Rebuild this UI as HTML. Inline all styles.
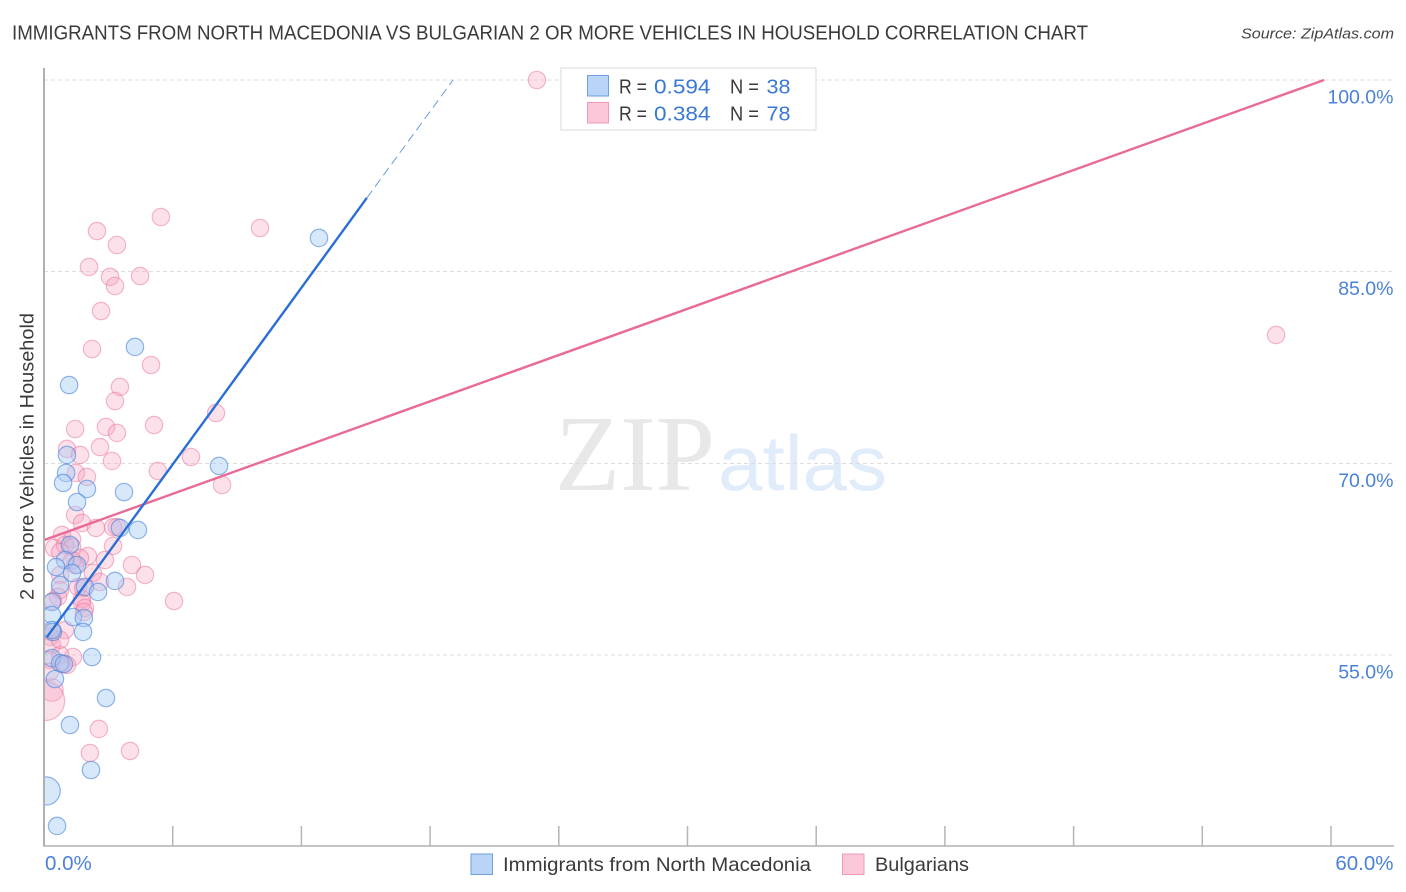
<!DOCTYPE html>
<html lang="en">
<head>
<meta charset="utf-8">
<title>Immigrants from North Macedonia vs Bulgarian 2 or more Vehicles in Household Correlation Chart</title>
<style>
html,body{margin:0;padding:0;background:#fff;}
body{width:1406px;height:892px;overflow:hidden;}
svg{display:block;}
text{font-family:"Liberation Sans",sans-serif;}
</style>
</head>
<body>
<svg id="chart" xmlns="http://www.w3.org/2000/svg" width="1406" height="892" viewBox="0 0 1406 892">
  <defs><clipPath id="plot-clip"><rect x="44" y="60" width="1350" height="786"></rect></clipPath></defs>
  <text x="12" y="39.5" font-size="20" fill="#3a3a3a" textLength="1076" lengthAdjust="spacingAndGlyphs">IMMIGRANTS FROM NORTH MACEDONIA VS BULGARIAN 2 OR MORE VEHICLES IN HOUSEHOLD CORRELATION CHART</text>
  <text x="1241" y="38.5" font-size="15" font-style="italic" fill="#444" textLength="153" lengthAdjust="spacingAndGlyphs">Source: ZipAtlas.com</text>
  <g>
    <text x="555" y="490" font-size="108" fill="#e8e8e8" style="font-family:'Liberation Serif',serif" textLength="160" lengthAdjust="spacingAndGlyphs">ZIP</text>
    <text x="718" y="490" font-size="78" fill="#e1ecfa" textLength="169" lengthAdjust="spacingAndGlyphs">atlas</text>
  </g>
  <g id="grid"></g>
  <g id="points" clip-path="url(#plot-clip)"></g>
  <g id="lines"></g>
  <g id="axes"></g>
  <text transform="translate(33.5,600) rotate(-90)" x="0" y="0" font-size="19" fill="#3a3a3a" textLength="287" lengthAdjust="spacingAndGlyphs">2 or more Vehicles in Household</text>
  <g>
    <rect x="561" y="68" width="255" height="62" fill="#fff" fill-opacity="0.9" stroke="#e6e6e6" stroke-width="1.5"></rect>
    <rect x="587.5" y="75.5" width="21" height="20.5" fill="#b9d4f7" stroke="#6f9fdf" stroke-width="1"></rect>
    <rect x="587.5" y="102.5" width="21" height="20.5" fill="#fcc8d9" stroke="#f19ab8" stroke-width="1"></rect>
    <text x="619" y="93.5" font-size="20" fill="#3a3a3a" textLength="28" lengthAdjust="spacingAndGlyphs">R =</text>
    <text x="654" y="93.5" font-size="20.5" fill="#3a78d6" textLength="56.5" lengthAdjust="spacingAndGlyphs">0.594</text>
    <text x="730" y="93.5" font-size="20" fill="#3a3a3a" textLength="29" lengthAdjust="spacingAndGlyphs">N =</text>
    <text x="766.5" y="93.5" font-size="20.5" fill="#3a78d6" textLength="24" lengthAdjust="spacingAndGlyphs">38</text>
    <text x="619" y="120.5" font-size="20" fill="#3a3a3a" textLength="28" lengthAdjust="spacingAndGlyphs">R =</text>
    <text x="654" y="120.5" font-size="20.5" fill="#3a78d6" textLength="56.5" lengthAdjust="spacingAndGlyphs">0.384</text>
    <text x="730" y="120.5" font-size="20" fill="#3a3a3a" textLength="29" lengthAdjust="spacingAndGlyphs">N =</text>
    <text x="766.5" y="120.5" font-size="20.5" fill="#3a78d6" textLength="24" lengthAdjust="spacingAndGlyphs">78</text>
  </g>
  <g>
    <rect x="471" y="854" width="21.5" height="20.5" fill="#b9d4f7" stroke="#6f9fdf" stroke-width="1"></rect>
    <text x="503" y="871" font-size="19.5" fill="#3a3a3a" textLength="308" lengthAdjust="spacingAndGlyphs">Immigrants from North Macedonia</text>
    <rect x="842.5" y="854" width="21.5" height="20.5" fill="#fcc8d9" stroke="#f19ab8" stroke-width="1"></rect>
    <text x="875" y="871" font-size="19.5" fill="#3a3a3a" textLength="94" lengthAdjust="spacingAndGlyphs">Bulgarians</text>
  </g>
</svg>
<script>
const yTickValues = [100, 85, 70, 55];
const yTickLabels = ["100.0%", "85.0%", "70.0%", "55.0%"];
const xTickValues = [0, 6, 12, 18, 24, 30, 36, 42, 48, 54, 60];
const xEndValues = [0, 60];
const xEndLabels = ["0.0%", "60.0%"];

const blueX = [12.82,4.24,1.17,8.16,1.07,1.03,0.89,2.0,3.73,1.54,4.38,3.54,1.21,0.98,1.54,0.56,1.31,3.31,1.91,0.75,2.52,0.37,0.37,1.35,1.86,1.82,0.42,2.24,0.37,0.75,0.93,0.51,2.89,1.21,2.19,0.1,0.61,0.37];
const blueY = [87.64,79.11,76.13,69.8,70.66,69.25,68.47,68.0,67.76,66.98,64.79,64.95,63.62,62.44,62.05,61.89,61.42,60.8,60.33,60.49,59.94,59.15,58.14,57.98,57.9,56.81,56.81,54.85,54.77,54.38,54.3,53.13,51.64,49.53,46.01,44.37,41.63,56.96];
const blueWeight = [1,1,1,1,1,1,1,1,1,1,1,1,1,1,1,1,1,1,1,1,1,1,1,1,1,1,1,1,1,1,1,1,1,1,1,1.62,1,1];

const pinkX = [22.98,5.45,10.07,2.47,3.40,2.10,3.08,4.48,3.31,2.66,57.44,2.24,4.99,3.54,3.31,8.02,5.13,1.45,2.89,3.40,1.07,2.61,1.68,6.85,3.17,5.31,1.49,2.0,8.30,1.45,1.77,2.42,3.4,3.22,0.84,1.31,0.47,0.98,1.31,2.05,2.84,1.68,0.75,4.10,4.71,6.06,3.87,2.28,0.75,1.45,2.61,1.59,0.75,0.65,0.42,1.82,1.77,1.77,1.91,0.98,0.37,0.28,0.37,1.35,0.75,0.84,1.07,0.28,0.37,0.05,2.56,2.14,4.01,1.86,0.75,0.28,3.22,1.31];
const pinkY = [100,89.28,88.42,88.18,87.09,85.37,84.59,84.66,83.88,81.92,80.05,78.95,77.7,75.98,74.88,73.94,73.0,72.69,72.85,72.38,71.13,71.28,70.66,70.5,70.19,69.41,69.25,68.94,68.31,65.96,65.34,64.95,65.02,63.54,64.4,64.08,63.38,63.62,63.46,62.75,62.44,62.6,63.07,62.05,61.27,59.23,60.33,61.42,61.27,62.05,60.72,60.33,60.09,59.55,59.23,60.25,59.39,59.08,58.69,56.96,56.81,56.42,55.79,54.85,55.01,54.3,54.23,54.62,52.27,51.41,49.22,47.34,47.5,58.37,56.2,53.7,65.0,62.4];
const pinkWeight = [1,1,1,1,1,1,1,1,1,1,1,1,1,1,1,1,1,1,1,1,1,1,1,1,1,1,1,1,1,1,1,1,1,1,1,1,1,1,1,1,1,1,1,1,1,1,1,1,1,1,1,1,1,1,1,1,1,1,1,1,1,1,1,1,1,1,1,1,1.3,2.25,1,1,1,1,1,1,1,1];

const blueTrendX = [0.14, 15.05];
const blueTrendY = [56.42, 90.77];
const blueProjectedX = [15.05, 19.07];
const blueProjectedY = [90.77, 100];
const pinkTrendX = [0, 59.68];
const pinkTrendY = [64.0, 100];

const NS = "http://www.w3.org/2000/svg";
const xScale = v => 44 + v * 21.45;
const yScale = v => 80 + (100 - v) * 12.78;
const rScale = w => 8.7 * w;

function make(tag, attrs, parent) {
  const el = document.createElementNS(NS, tag);
  Object.keys(attrs).forEach(k => el.setAttribute(k, attrs[k]));
  parent.appendChild(el);
  return el;
}

const grid = document.getElementById("grid");
const axes = document.getElementById("axes");
const points = document.getElementById("points");
const lines = document.getElementById("lines");

yTickValues.forEach((v, i) => {
  const g = make("line", {x1: 44, x2: 1394, y1: yScale(v), y2: yScale(v), stroke: "#dddddd", "stroke-width": 1, "stroke-dasharray": "4 3", "shape-rendering": "crispEdges"}, grid);
  
  
  const t = make("text", {x: 1393.5, y: yScale(v) + 23.5, "font-size": 19.5, fill: "#4a82d9", "text-anchor": "end"}, axes);
  t.textContent = yTickLabels[i];
  
  
});

xTickValues.forEach(v => {
  const k = make("line", {x1: xScale(v), x2: xScale(v), y1: 826, y2: 846, stroke: "#b5b5b5", "stroke-width": 1.5}, axes);
  
  
});

xEndValues.forEach((v, i) => {
  const t = make("text", {x: i === 0 ? xScale(v) + 1 : 1393.5, y: 870, "font-size": 20.5, fill: "#4a82d9", "text-anchor": i === 0 ? "start" : "end"}, axes);
  t.textContent = xEndLabels[i];
  
  
});

const yAxisLine = make("line", {x1: 44, x2: 44, y1: 68, y2: 846, stroke: "#b0b0b0", "stroke-width": 2}, axes);


const xAxisLine = make("line", {x1: 43, x2: 1394, y1: 846, y2: 846, stroke: "#b0b0b0", "stroke-width": 1.5}, axes);



pinkX.forEach((x, i) => {
  const c = make("circle", {cx: xScale(x), cy: yScale(pinkY[i]), r: rScale(pinkWeight[i]), fill: "#f6a5c0", "fill-opacity": 0.34, stroke: "#ea6f98", "stroke-opacity": 0.48, "stroke-width": 1.2}, points);
  
  
});
blueX.forEach((x, i) => {
  const c = make("circle", {cx: xScale(x), cy: yScale(blueY[i]), r: rScale(blueWeight[i]), fill: "#a3c7f5", "fill-opacity": 0.42, stroke: "#4a86d8", "stroke-opacity": 0.6, "stroke-width": 1.2}, points);
  
  
});

const pinkTrend = make("line", {x1: xScale(pinkTrendX[0]), y1: yScale(pinkTrendY[0]), x2: xScale(pinkTrendX[1]), y2: yScale(pinkTrendY[1]), stroke: "#e96a96", "stroke-width": 2.4}, lines);


const blueTrend = make("line", {x1: xScale(blueTrendX[0]), y1: yScale(blueTrendY[0]), x2: xScale(blueTrendX[1]), y2: yScale(blueTrendY[1]), stroke: "#2a6fd6", "stroke-width": 2.4}, lines);


const blueProjected = make("line", {x1: xScale(blueProjectedX[0]), y1: yScale(blueProjectedY[0]), x2: xScale(blueProjectedX[1]), y2: yScale(blueProjectedY[1]), stroke: "#6b9ce0", "stroke-width": 1, "stroke-dasharray": "9 5"}, lines);


</script>
</body>
</html>
